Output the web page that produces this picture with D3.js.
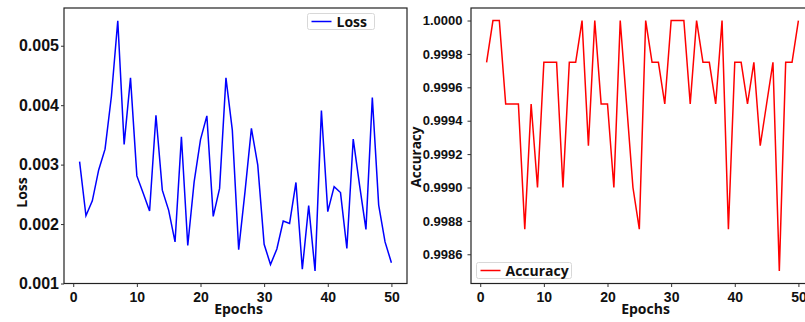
<!DOCTYPE html>
<html><head><meta charset="utf-8">
<script src="https://cdn.jsdelivr.net/npm/d3@7"></script>
<style>
body{margin:0;background:#fff;}
svg{display:block;font-family:"Open Sans",sans-serif;font-weight:700;}
</style></head>
<body><svg id="c" width="805" height="322"></svg>
<script>
const epochs = d3.range(1, 51);
const lossValues = [0.00305,0.00214,0.00239,0.00291,0.00326,0.00415,0.00542,0.00334,0.00446,0.00281,
0.00252,0.00222,0.00383,0.00257,0.00223,0.00170,0.00347,0.00164,0.00271,0.00342,
0.00382,0.00213,0.00260,0.00446,0.00358,0.00157,0.00255,0.00361,0.00299,0.00166,
0.00132,0.00158,0.00205,0.00201,0.00270,0.00124,0.00231,0.00121,0.00391,0.00221,
0.00263,0.00253,0.00159,0.00343,0.00265,0.00191,0.00413,0.00232,0.00170,0.00135];
const accValues = [0.99975,1.0,1.0,0.9995,0.9995,0.9995,0.99875,0.9995,0.999,0.99975,
0.99975,0.99975,0.999,0.99975,0.99975,1.0,0.99925,1.0,0.9995,0.9995,
0.999,1.0,0.9995,0.999,0.99875,1.0,0.99975,0.99975,0.9995,1.0,
1.0,1.0,0.9995,1.0,0.99975,0.99975,0.9995,1.0,0.99875,0.99975,
0.99975,0.9995,0.99975,0.99925,0.9995,0.99975,0.9985,0.99975,0.99975,1.0];
const xTicks = [0,10,20,30,40,50];
const lossTicks = [0.001,0.002,0.003,0.004,0.005];
const accTicks = [0.9986,0.9988,0.9990,0.9992,0.9994,0.9996,0.9998,1.0000];

const svg = d3.select("#c");

function panel(o){
  const g = svg.append("g");
  const x = d3.scaleLinear().domain([-1.45,52.45]).range([o.x0,o.x0+343]);
  const y = d3.scaleLinear().domain(o.ydom).range([o.y1,o.y0]);
  g.append("rect").attr("x",o.x0).attr("y",o.y0).attr("width",343).attr("height",o.y1-o.y0)
    .attr("fill","none").attr("stroke","#222").attr("stroke-width",1.2);
  const xa = g.append("g").attr("transform",`translate(0,${o.y1})`)
    .call(d3.axisBottom(x).tickValues(xTicks).tickSize(3.5).tickPadding(5).tickFormat(d3.format("d")));
  xa.select(".domain").remove();
  xa.selectAll("line").attr("stroke","#333");
  xa.selectAll("text").attr("font-size",o.xfs).attr("fill","#111").attr("font-weight",700);
  const ya = g.append("g").attr("transform",`translate(${o.x0},0)`)
    .call(d3.axisLeft(y).tickValues(o.yticks).tickSize(o.ytl).tickPadding(o.ypad).tickFormat(d3.format(o.yfmt)));
  ya.select(".domain").remove();
  ya.selectAll("line").attr("stroke","#333");
  ya.selectAll("text").attr("font-size",o.yfs).attr("fill","#111").attr("font-weight",700);
  g.append("path").datum(o.vals)
    .attr("d",d3.line().x((d,i)=>x(epochs[i])).y(d=>y(d)))
    .attr("fill","none").attr("stroke",o.color).attr("stroke-width",1.5).attr("stroke-linejoin","miter");
  g.append("text").attr("x",o.xlx).attr("y",314).attr("text-anchor","middle")
    .attr("font-size",14).attr("fill","#111").text("Epochs");
  g.append("text").attr("transform",`translate(${o.ylx},${o.yly}) rotate(-90)`).attr("text-anchor","middle")
    .attr("font-size",o.ylfs).attr("fill","#111").text(o.ylabel);
  const L = o.leg;
  g.append("rect").attr("x",L.x).attr("y",L.y).attr("width",L.w).attr("height",L.h).attr("rx",2)
    .attr("fill","#fff").attr("fill-opacity",0.8).attr("stroke","#d8d8d8").attr("stroke-width",1);
  g.append("line").attr("x1",L.x+4).attr("x2",L.x+24).attr("y1",L.y+L.h/2).attr("y2",L.y+L.h/2)
    .attr("stroke",o.color).attr("stroke-width",1.5);
  g.append("text").attr("x",L.x+29).attr("y",L.y+L.h/2+5).attr("font-size",14).attr("fill","#111").text(o.name);
}

panel({x0:64,y0:8,y1:283.5,ydom:[0.001,0.005635],vals:lossValues,color:"#0000ff",
  yticks:lossTicks,yfmt:".3f",yfs:16,ytl:3,ypad:2,xfs:14,
  xlx:238.5,ylx:26.5,yly:192.5,ylfs:14,ylabel:"Loss",name:"Loss",
  leg:{x:307.5,y:13.5,w:67,h:16}});
panel({x0:471,y0:8,y1:283.5,ydom:[0.998425,1.000075],vals:accValues,color:"#ff0000",
  yticks:accTicks,yfmt:".4f",yfs:13,ytl:3.5,ypad:5,xfs:14,
  xlx:645.5,ylx:421,yly:157,ylfs:13.5,ylabel:"Accuracy",name:"Accuracy",
  leg:{x:476.5,y:262.5,w:95,h:16}});
</script></body></html>
